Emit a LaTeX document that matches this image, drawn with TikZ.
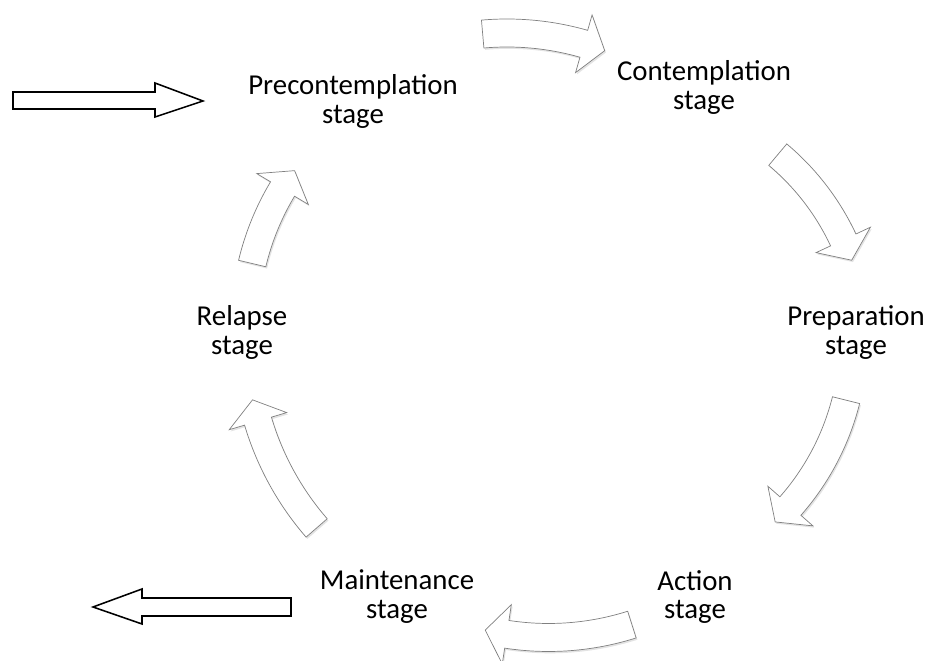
\documentclass[tikz,border=0pt]{standalone}
\usepackage{fontspec}
\setmainfont{Carlito}
\usetikzlibrary{positioning}
\usetikzlibrary{calc}
\usetikzlibrary{shadows}

\tikzset{
  stagelabel/.style={align=center, inner sep=0pt, font=\fontsize{20.5}{20.6}\selectfont},
  bendarrow/.style={draw=black!50, line width=0.5pt, fill=white, line join=miter,
    drop shadow={opacity=0.22, shadow xshift=0.9pt, shadow yshift=-1.3pt}},
  blockarrow/.style={draw=black, line width=1.1pt, fill=white, line join=miter}
}

% curved block arrow: centre x, centre y, radius, tail angle, tip angle
\newcommand{\cyclearrow}[5]{%
  \pgfmathsetmacro{\hbase}{#5-22/#3*180/pi}%
  \pgfmathsetmacro{\rout}{#3+14}%
  \pgfmathsetmacro{\rin}{#3-14}%
  \pgfmathsetmacro{\rhout}{#3+30}%
  \pgfmathsetmacro{\rhin}{#3-30}%
  \begin{scope}[shift={(#1,#2)}]
    \draw[bendarrow] (#4:\rout) arc[start angle=#4, end angle=\hbase, radius=\rout]
      -- (\hbase:\rhout) -- (#5:#3) -- (\hbase:\rhin) -- (\hbase:\rin)
      arc[start angle=\hbase, end angle=#4, radius=\rin] -- cycle;
  \end{scope}}

\begin{document}
\begin{tikzpicture}[x=0.025cm, y=-0.025cm, line cap=round]
    \useasboundingbox (0,0) rectangle (930,661);

    % stages
    \node[stagelabel] (pre)   at (353,101)   {Precontemplation\\stage};
    \node[stagelabel] (con)   at (704,87.5)  {Contemplation\\stage};
    \node[stagelabel] (prep)  at (856,332.5) {Preparation\\stage};
    \node[stagelabel] (act)   at (695,597)   {Action\\stage};
    \node[stagelabel] (maint) at (397,597)   {Maintenance\\stage};
    \node[stagelabel] (rel)   at (242,332.5) {Relapse\\stage};

    % curved arrows round the cycle
    \cyclearrow{507}{312}{279}{-95}{-69.5}
    \cyclearrow{617.7}{345.4}{249}{-50}{-20}
    \cyclearrow{599.7}{338.3}{254}{14.1}{46.3}
    \cyclearrow{548.6}{362}{275.5}{72.4}{103.3}
    \cyclearrow{534}{339}{288}{139}{167.8}
    \cyclearrow{509}{324.7}{264}{193.4}{215.7}

    % way in and way out
    \draw[blockarrow] (13,92) -- (155,92) -- (155,83) -- (203,101)
      -- (155,117) -- (155,109) -- (13,109) -- cycle;
    \draw[blockarrow] (291,598) -- (142,598) -- (142,589) -- (93,607)
      -- (142,624) -- (142,616) -- (291,616) -- cycle;
\end{tikzpicture}
\end{document}
